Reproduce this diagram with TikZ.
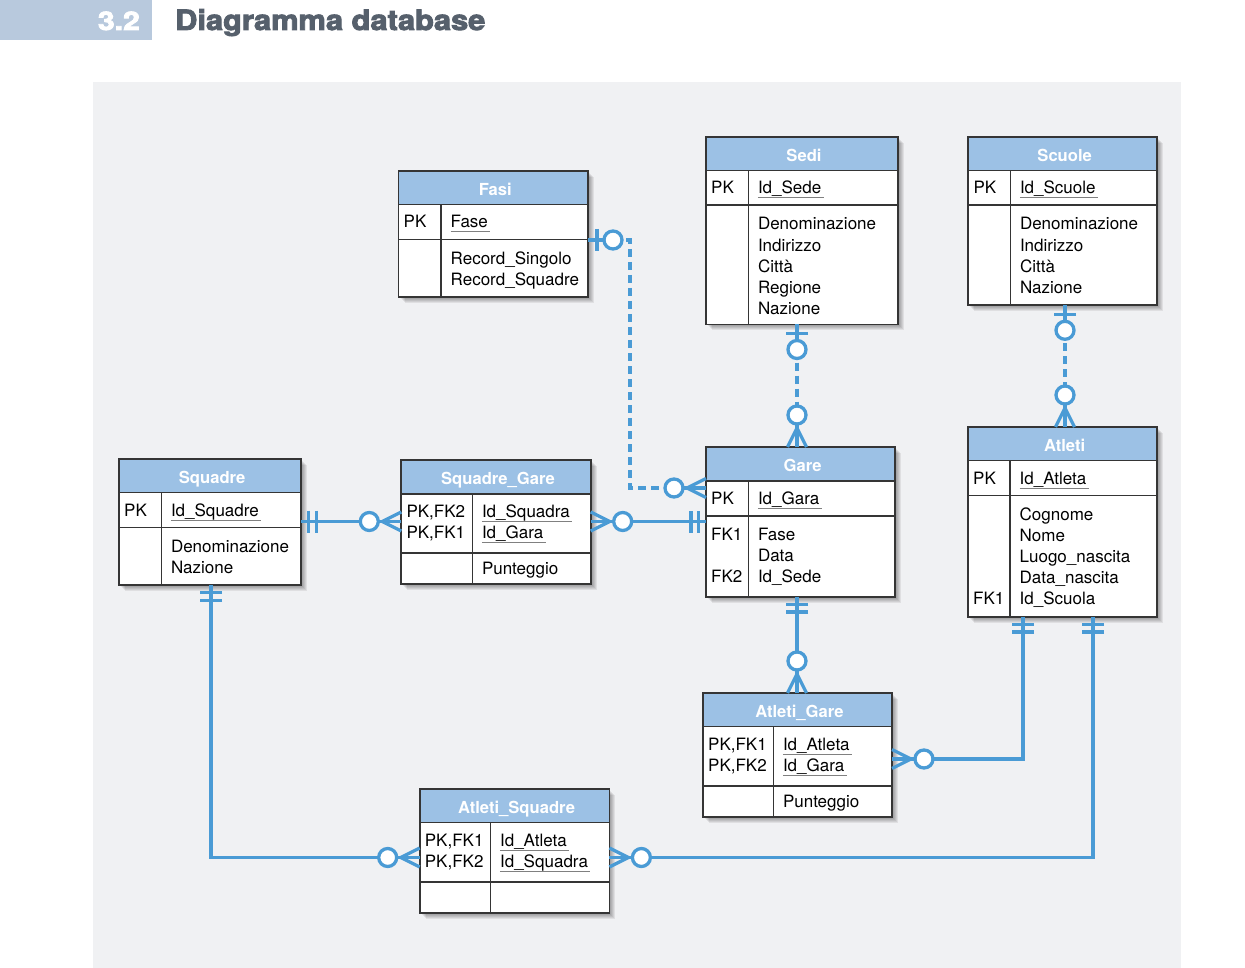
\documentclass[tikz,border=0pt]{standalone}
\usepackage{fontspec}
\usepackage{graphicx}
\setmainfont{TeX Gyre Heros}
\newfontfamily\heavyfont{TeX Gyre Heros}[BoldFeatures={FakeBold=3}]
\usetikzlibrary{calc}
\definecolor{panel}{HTML}{F0F1F3}
\definecolor{hdr}{HTML}{9CC1E5}
\definecolor{tagbox}{HTML}{B8C9DD}
\definecolor{titlecol}{HTML}{56606C}
\definecolor{lnk}{HTML}{4A9BD5}
\definecolor{frame}{HTML}{353535}
\definecolor{ulc}{HTML}{808080}
\tikzset{
  tbl/.style={draw=frame, line width=1.7pt, fill=white, inner sep=0pt, outer sep=0pt},
  tline/.style={draw=frame, line width=1.6pt},
  ttl/.style={inner sep=0pt, anchor=base, text=white, font=\fontsize{16.6}{20}\selectfont\bfseries},
  txt/.style={inner sep=0pt, anchor=base west, font=\fontsize{17}{21}\selectfont},
  uline/.style={draw=ulc, line width=1pt},
  conn/.style={draw=lnk, line width=3.3pt},
  dsh/.style={dash pattern=on 8pt off 5pt},
}
% table: #1 name, #2 x1, #3 y1, #4 x2, #5 y2, #6 header bottom, #7 key bottom, #8 divider, #9 title
\newcommand\ertable[9]{%
  \foreach \s in {1,...,6}{\fill[black,opacity=0.07] ({#2+\s},{#3+\s}) rectangle ({#4+\s},{#5+\s});}
  \node[tbl, minimum width={(#4-#2)*1pt}, minimum height={(#5-#3)*1pt}, anchor=north west] (#1) at (#2,#3) {};
  \fill[hdr] (#2,#3) rectangle (#4,#6);
  \draw[tline] (#2,#6) -- (#4,#6) (#2,#7) -- (#4,#7) (#8,#6) -- (#8,#5);
  \draw[tbl, fill=none] (#1.north west) rectangle (#1.south east);
  \node[ttl] (#1-title) at ({(#2+#4)/2+2},{#6-9}) {#9};
}
\newcommand\fld[4]{\node[txt] (#1) at (#2,#3) {#4};}
\newcommand\kfld[4]{\node[txt] (#1) at (#2,#3) {#4};
  \draw[uline] ([yshift=-4pt]#1.base west) -- ([xshift=2pt,yshift=-4pt]#1.base east);}
% markers, local x axis points away from the table
\newcommand\mOne[2]{\begin{scope}[shift={(#1)}, rotate=#2]
  \draw[conn] (0,0) -- (25,0);
  \draw[conn] (9,-11) -- (9,11);
  \draw[conn, fill=white] (25,0) circle[radius=9pt];
  \end{scope}}
\newcommand\mMany[2]{\begin{scope}[shift={(#1)}, rotate=#2]
  \draw[conn] (0,0) -- (32,0);
  \draw[conn] (0,-9.5) -- (19,0) -- (0,9.5);
  \draw[conn, fill=white] (32,0) circle[radius=9pt];
  \end{scope}}
\newcommand\mMand[2]{\begin{scope}[shift={(#1)}, rotate=#2]
  \draw[conn] (7.5,-11) -- (7.5,11) (15,-11) -- (15,11);
  \end{scope}}
\begin{document}
\begin{tikzpicture}[x=1pt,y=-1pt]
\useasboundingbox (0,0) rectangle (1245,968);
\fill[white] (0,0) rectangle (1245,968);
\fill[tagbox] (0,0) rectangle (152,40);
\node[anchor=base east, inner sep=0pt, text=white, font=\heavyfont\fontsize{25.5}{28}\selectfont\bfseries] (secnum) at (140,30) {\scalebox{1.18}[1]{3.2}};
\node[anchor=base west, inner sep=0pt, text=titlecol, font=\heavyfont\fontsize{28}{32}\selectfont\bfseries] (title) at (175,30) {\scalebox{1.1}[1]{Diagramma database}};
\fill[panel] (93,82) rectangle (1181,968);

% ---- tables
\ertable{fasi}{398.5}{171}{588}{297}{204.5}{239.5}{441}{Fasi}
\fld{fasi-k1}{403.5}{228}{PK}
\kfld{fasi-a1}{450.5}{228}{Fase}
\fld{fasi-a2}{450.5}{265}{Record\_Singolo}
\fld{fasi-a3}{450.5}{286}{Record\_Squadre}

\ertable{sedi}{706}{137}{898}{324.5}{170.7}{205.3}{748.3}{Sedi}
\fld{sedi-k1}{711}{194}{PK}
\kfld{sedi-a1}{757.8}{194}{Id\_Sede}
\fld{sedi-a2}{757.8}{230}{Denominazione}
\fld{sedi-a3}{757.8}{251.2}{Indirizzo}
\fld{sedi-a4}{757.8}{272.4}{Città}
\fld{sedi-a5}{757.8}{293.6}{Regione}
\fld{sedi-a6}{757.8}{314.8}{Nazione}

\ertable{scuole}{968.3}{137}{1157}{305.3}{170.7}{205.3}{1010.3}{Scuole}
\fld{scuole-k1}{973.3}{194}{PK}
\kfld{scuole-a1}{1019.8}{194}{Id\_Scuole}
\fld{scuole-a2}{1019.8}{230}{Denominazione}
\fld{scuole-a3}{1019.8}{251.2}{Indirizzo}
\fld{scuole-a4}{1019.8}{272.4}{Città}
\fld{scuole-a5}{1019.8}{293.6}{Nazione}

\ertable{gare}{706}{447}{895.3}{597}{480.7}{515.7}{748.3}{Gare}
\fld{gare-k1}{711}{504}{PK}
\kfld{gare-a1}{757.8}{504}{Id\_Gara}
\fld{gare-k2}{711}{540.5}{FK1}
\fld{gare-a2}{757.8}{540.5}{Fase}
\fld{gare-a3}{757.8}{561.7}{Data}
\fld{gare-k3}{711}{582.9}{FK2}
\fld{gare-a4}{757.8}{582.9}{Id\_Sede}

\ertable{atleti}{968}{427}{1157.3}{617}{460.5}{495.3}{1010}{Atleti}
\fld{atleti-k1}{973}{484}{PK}
\kfld{atleti-a1}{1019.5}{484}{Id\_Atleta}
\fld{atleti-a2}{1019.5}{520}{Cognome}
\fld{atleti-a3}{1019.5}{541.2}{Nome}
\fld{atleti-a4}{1019.5}{562.4}{Luogo\_nascita}
\fld{atleti-a5}{1019.5}{583.6}{Data\_nascita}
\fld{atleti-k2}{973}{604.8}{FK1}
\fld{atleti-a6}{1019.5}{604.8}{Id\_Scuola}

\ertable{squadre}{119}{459}{301.3}{585.3}{492.5}{527.3}{161.3}{Squadre}
\fld{squadre-k1}{124}{516}{PK}
\kfld{squadre-a1}{170.8}{516}{Id\_Squadre}
\fld{squadre-a2}{170.8}{552}{Denominazione}
\fld{squadre-a3}{170.8}{573.2}{Nazione}

\ertable{sqgare}{401.3}{460}{590.7}{584}{493.7}{552.7}{472.3}{Squadre\_Gare}
\fld{sqgare-k1}{406.3}{517}{PK,FK2}
\kfld{sqgare-a1}{481.8}{517}{Id\_Squadra}
\fld{sqgare-k2}{406.3}{538}{PK,FK1}
\kfld{sqgare-a2}{481.8}{538}{Id\_Gara}
\fld{sqgare-a3}{481.8}{574}{Punteggio}

\ertable{atgare}{703}{693}{892}{817}{726.5}{786}{773.3}{Atleti\_Gare}
\fld{atgare-k1}{708}{750}{PK,FK1}
\kfld{atgare-a1}{782.8}{750}{Id\_Atleta}
\fld{atgare-k2}{708}{771}{PK,FK2}
\kfld{atgare-a2}{782.8}{771}{Id\_Gara}
\fld{atgare-a3}{782.8}{807}{Punteggio}

\ertable{atsq}{419.7}{789}{609.4}{912.7}{822.5}{882}{490.4}{Atleti\_Squadre}
\fld{atsq-k1}{424.7}{846}{PK,FK1}
\kfld{atsq-a1}{499.9}{846}{Id\_Atleta}
\fld{atsq-k2}{424.7}{867}{PK,FK2}
\kfld{atsq-a2}{499.9}{867}{Id\_Squadra}

% ---- connector end points
\coordinate (fA)  at ($(fasi.north east)+(0,69)$);
\coordinate (gA)  at ($(gare.north west)+(0,41)$);
\coordinate (sqB) at ($(squadre.north east)+(0,62.5)$);
\coordinate (sgB) at ($(sqgare.north west)+(0,61.5)$);
\coordinate (sgC) at ($(sqgare.north east)+(0,61.5)$);
\coordinate (gC)  at ($(gare.north west)+(0,74.5)$);
\coordinate (sD)  at ($(sedi.south west)+(91,0)$);
\coordinate (gD)  at ($(gare.north west)+(91,0)$);
\coordinate (scE) at ($(scuole.south west)+(96.7,0)$);
\coordinate (aE)  at ($(atleti.north west)+(97,0)$);
\coordinate (gF)  at ($(gare.south west)+(91,0)$);
\coordinate (agF) at ($(atgare.north west)+(94,0)$);
\coordinate (aG)  at ($(atleti.south west)+(55,0)$);
\coordinate (agG) at ($(atgare.north east)+(0,66)$);
\coordinate (aH)  at ($(atleti.south west)+(125,0)$);
\coordinate (asH) at ($(atsq.north east)+(0,68.5)$);
\coordinate (sqI) at ($(squadre.south west)+(92,0)$);
\coordinate (asI) at ($(atsq.north west)+(0,68.5)$);

% ---- dashed connectors
\draw[conn,dsh] ($(fA)+(25,0)$) -- ($(fA)+(42,0)$) |- ($(gA)+(-32,0)$);
\draw[conn,dsh] ($(sD)+(0,25)$) -- ($(gD)+(0,-32)$);
\draw[conn,dsh] ($(scE)+(0,25)$) -- ($(aE)+(0,-32)$);
% ---- solid connectors
\draw[conn] (sqB) -- (sgB);
\draw[conn] (sgC) -- (gC);
\draw[conn] (gF) -- (agF);
\draw[conn] (aG) |- (agG);
\draw[conn] (aH) |- (asH);
\draw[conn] (sqI) |- (asI);
% ---- markers
\mOne{fA}{0}
\mMany{gA}{180}
\mOne{sD}{270}
\mMany{gD}{90}
\mOne{scE}{270}
\mMany{aE}{90}
\mMand{sqB}{0}
\mMany{sgB}{180}
\mMany{sgC}{0}
\mMand{gC}{180}
\mMand{gF}{270}
\mMany{agF}{90}
\mMand{aG}{270}
\mMany{agG}{0}
\mMand{aH}{270}
\mMany{asH}{0}
\mMand{sqI}{270}
\mMany{asI}{180}
\end{tikzpicture}
\end{document}
